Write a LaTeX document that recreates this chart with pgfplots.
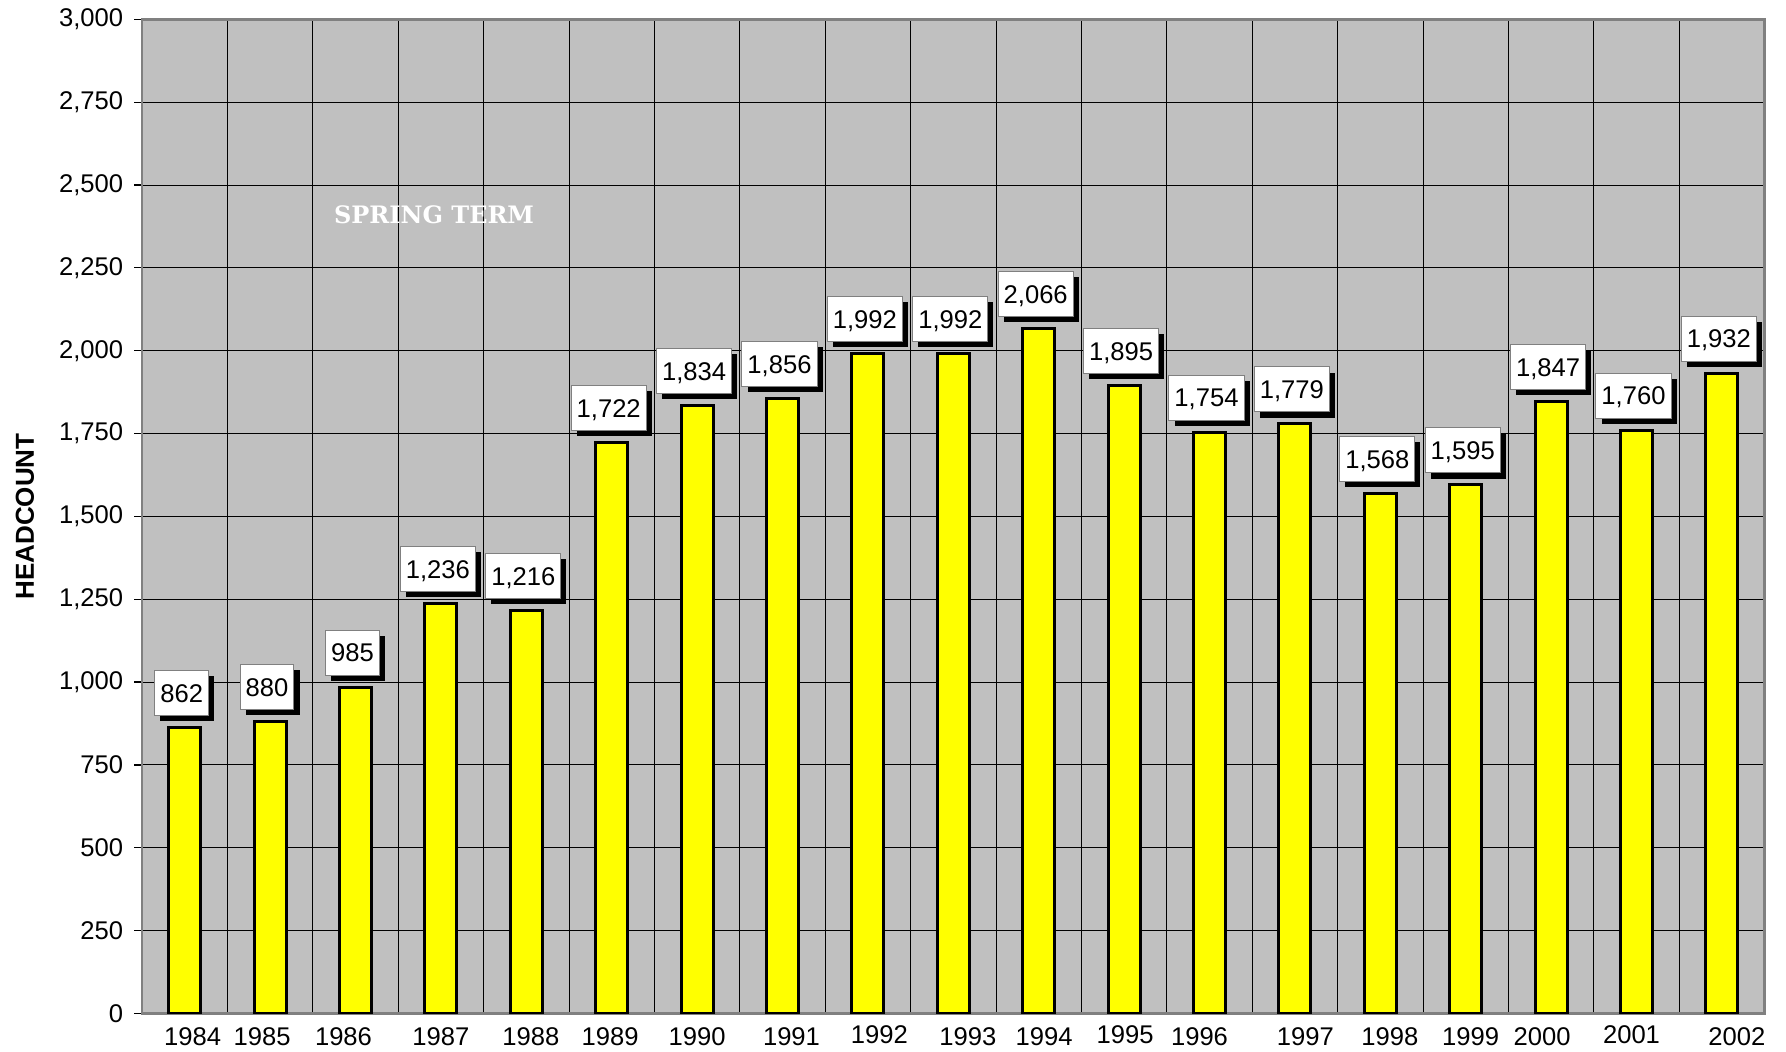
\documentclass[border=0pt]{standalone}
\usepackage{fontspec}
\setmainfont{Liberation Sans}
\newfontfamily\springfont{DejaVu Serif}
\usepackage{pgfplots}
\pgfplotsset{compat=1.18}
\usetikzlibrary{shadows}
\definecolor{bggray}{RGB}{192,192,192}
\definecolor{axgray}{RGB}{128,128,128}
\definecolor{baryellow}{RGB}{255,255,0}
\newcommand{\xl}[3]{\raisebox{#2}{\makebox[0pt][c]{\hspace*{#1}\hspace*{#1}#3}}}
\begin{document}
\begin{tikzpicture}
\begin{axis}[
  scale only axis, width=811.3pt, height=497pt,
  xmin=-0.5, xmax=18.5, ymin=0, ymax=3000,
  axis background/.style={fill=bggray},
  axis line style={draw=axgray, line width=1.2pt},
  ytick={0,250,...,3000},
  xtick={0,...,18},
  xticklabels={\xl{4pt}{0pt}{1984},\xl{-4pt}{0pt}{1985},\xl{-6pt}{0pt}{1986},\xl{0pt}{0pt}{1987},\xl{2.25pt}{0pt}{1988},\xl{-0.75pt}{0pt}{1989},\xl{0pt}{0pt}{1990},\xl{4.5pt}{0pt}{1991},\xl{5.75pt}{1.3pt}{1992},\xl{7.25pt}{0pt}{1993},\xl{2.75pt}{0pt}{1994},\xl{0.5pt}{1.3pt}{1995},\xl{-5pt}{0pt}{1996},\xl{5.25pt}{0pt}{1997},\xl{4.75pt}{0pt}{1998},\xl{2.5pt}{0pt}{1999},\xl{-4.5pt}{0pt}{2000},\xl{-2.5pt}{1.3pt}{2001},\xl{7.5pt}{0pt}{2002}},
  minor xtick={0.5,1.5,...,17.5},
  xminorgrids, ymajorgrids,
  grid style={black, line width=0.5pt},
  minor grid style={black, line width=0.5pt},
  tick align=outside,
  tick pos=left,
  major tick length=4pt,
  minor tick length=0pt,
  xtick style={draw=none},
  ytick style={black, line width=0.6pt},
  scaled y ticks=false,
  /pgf/number format/1000 sep={,},
  /pgf/number format/assume math mode=true,
  ticklabel style={font=\fontsize{12.8}{15}\selectfont, text=black},
  yticklabel style={anchor=east, inner sep=0pt, xshift=-5.2pt},
  xticklabel style={anchor=north, inner sep=0pt, text height=9.2pt, text depth=0pt, yshift=-2.8pt},
  ylabel={HEADCOUNT},
  every axis y label/.style={at={(axis description cs:0,0.5)}, xshift=-58.5pt, rotate=90, anchor=center, font=\bfseries\fontsize{13}{15}\selectfont},
]
\addplot[ybar, bar width=0.375, fill=baryellow, draw=black, line width=1.5pt,
  nodes near coords,
  nodes near coords style={font=\fontsize{12.8}{15}\selectfont, text=black, fill=white, draw=gray, line width=0.5pt,
    inner xsep=2.75pt, inner ysep=6.65pt, text height=9.2pt, text depth=0pt,
    anchor=south, yshift=5.75pt, xshift=-1.5pt,
    drop shadow={shadow xshift=2.8pt, shadow yshift=-2.8pt, fill=black, draw=none, opacity=1}}
] coordinates {
(0,862) (1,880) (2,985) (3,1236) (4,1216) (5,1722) (6,1834) (7,1856) (8,1992) (9,1992)
(10,2066) (11,1895) (12,1754) (13,1779) (14,1568) (15,1595) (16,1847) (17,1760) (18,1932)
};
\node[text=white, font=\springfont\bfseries\fontsize{12}{14}\selectfont] at (axis cs:2.92,2410) {SPRING TERM};
\end{axis}
\pgfresetboundingbox
\path[use as bounding box] ([shift={(-71pt,-18.8pt)}]current axis.south west) rectangle ([shift={(10.7pt,9.7pt)}]current axis.north east);
\end{tikzpicture}
\end{document}
